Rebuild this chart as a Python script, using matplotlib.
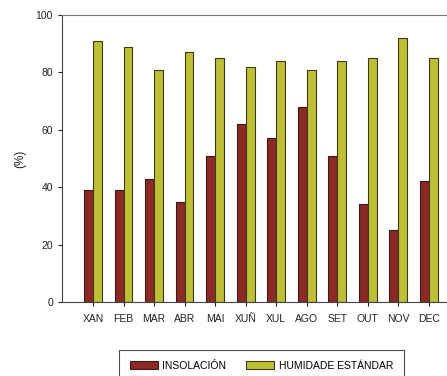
import matplotlib
matplotlib.use('Agg')
import matplotlib.pyplot as plt
import numpy as np

plt.rcParams['font.family'] = ['Liberation Sans', 'DejaVu Sans']

# Datos mensuais
meses = ['XAN', 'FEB', 'MAR', 'ABR', 'MAI', 'XUÑ', 'XUL', 'AGO', 'SET', 'OUT', 'NOV', 'DEC']
insolacion = [39, 39, 43, 35, 51, 62, 57, 68, 51, 34, 25, 42]
humidade = [91, 89, 81, 87, 85, 82, 84, 81, 84, 85, 92, 85]

fig = plt.figure(figsize=(4.47, 3.76), dpi=100)
ax = fig.add_axes([62 / 447, 1 - 302 / 376, 1 - 62 / 447, 287 / 376])

x = np.arange(len(meses))
w = 0.29
ax.bar(x - w / 2, insolacion, w, color='#8B2A25', edgecolor='#3a1a18', linewidth=0.8, label='INSOLACIÓN')
ax.bar(x + w / 2, humidade, w, color='#BFBF36', edgecolor='#3a3a18', linewidth=0.8, label='HUMIDADE ESTÁNDAR')

ax.set_xlim(-1.02, 11.6)
ax.set_ylim(0, 100)
ax.set_yticks([0, 20, 40, 60, 80, 100])
ax.set_xticks(x)
ax.set_xticklabels(meses)
ax.tick_params(labelsize=7.5, colors='#222222', length=3, width=0.8)
ax.tick_params(axis='x', pad=6)
ax.set_ylabel('(%)', fontsize=8.5, labelpad=7, color='#222222')

ax.spines['right'].set_visible(False)
ax.spines['top'].set_color('#777777')
ax.spines['left'].set_color('#444444')
ax.spines['bottom'].set_color('#444444')

# leyenda abaixo, cortada polo bordo inferior
leg = fig.legend(loc='center', bbox_to_anchor=(261.5 / 447, 1 - 366 / 376), ncol=2, fontsize=7.5,
                 frameon=True, fancybox=False, edgecolor='#222222', handlelength=2.7,
                 handleheight=0.8, handletextpad=0.45, columnspacing=1.9, borderpad=1.05)
leg.get_frame().set_linewidth(0.8)

fig.savefig('out.png', dpi=100)
